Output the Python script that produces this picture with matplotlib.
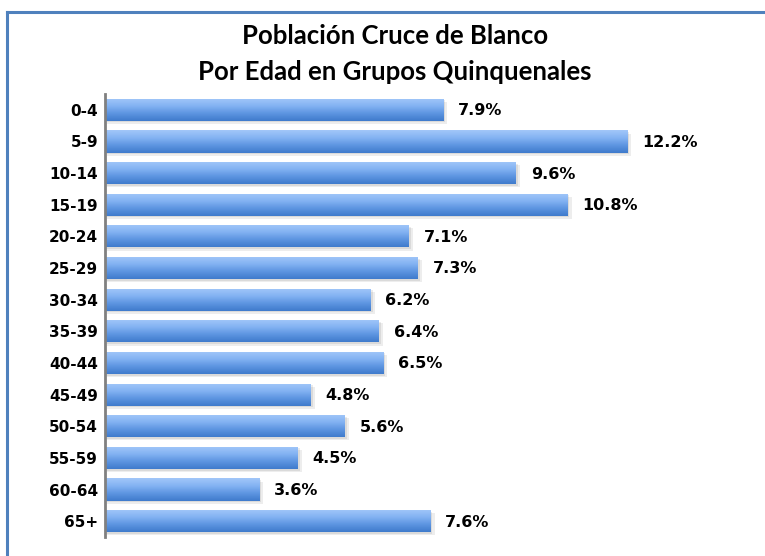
import matplotlib
matplotlib.use("Agg")
import matplotlib.pyplot as plt
import numpy as np
from matplotlib.patches import Rectangle
from matplotlib.colors import LinearSegmentedColormap

categories = ["0-4", "5-9", "10-14", "15-19", "20-24", "25-29", "30-34",
              "35-39", "40-44", "45-49", "50-54", "55-59", "60-64", "65+"]
values = [7.9, 12.2, 9.6, 10.8, 7.1, 7.3, 6.2, 6.4, 6.5, 4.8, 5.6, 4.5, 3.6, 7.6]
title = "Población Cruce de Blanco\nPor Edad en Grupos Quinquenales"

plt.rcParams['font.family'] = ['DejaVu Sans']

fig = plt.figure(figsize=(7.65, 5.56), dpi=100)
W, H = 765, 556

# figure border (top and left lines)
fig.add_artist(plt.Line2D([7 / W, 1], [1 - 12 / H, 1 - 12 / H], color="#4f81bd", lw=2.2,
                          transform=fig.transFigure))
fig.add_artist(plt.Line2D([7 / W, 7 / W], [0, 1 - 12 / H], color="#4f81bd", lw=2.2,
                          transform=fig.transFigure))

ax = fig.add_axes([105 / W, 1 - 537 / H, (750 - 105) / W, (537 - 94) / H])
n = len(categories)
ax.set_xlim(0, 645 / 42.8)
ax.set_ylim(n - 0.5, -0.5)

cmap = LinearSegmentedColormap.from_list("bar", ["#a2c7f9", "#84b3f3", "#5d95e1", "#3f7bcc"])
grad = np.linspace(0, 1, 64).reshape(-1, 1)
h = 0.7
for i, v in enumerate(values):
    # soft shadow
    ax.add_patch(Rectangle((0.05, i - h / 2 + 0.10), v + 0.05, h, facecolor="#000000",
                           alpha=0.07, edgecolor="none", zorder=1))
    ax.add_patch(Rectangle((0.02, i - h / 2 + 0.05), v + 0.03, h, facecolor="#000000",
                           alpha=0.08, edgecolor="none", zorder=1))
    rect = Rectangle((0, i - h / 2), v, h, facecolor="none", edgecolor="none", zorder=2)
    ax.add_patch(rect)
    im = ax.imshow(grad, extent=(0, v, i + h / 2, i - h / 2), aspect="auto", cmap=cmap,
                   zorder=2, interpolation="bicubic")
    im.set_clip_path(rect)
    ax.text(v + 0.35, i + 0.03, f"{v:.1f}%", va="center", ha="left", fontsize=11.5,
            fontweight="bold", color="black", zorder=3)

ax.set_yticks(range(n))
ax.set_yticklabels(categories, fontsize=11, fontweight="bold")
ax.tick_params(axis="y", length=0, pad=5)
ax.set_xticks([])
for s in ["top", "right", "bottom"]:
    ax.spines[s].set_visible(False)
ax.spines["left"].set_color("#808080")
ax.spines["left"].set_linewidth(2)

fig.text(395 / W, 1 - 54 / H, title, ha="center", va="center", fontsize=18.5,
         fontweight="bold", linespacing=1.6, family=["Lato", "DejaVu Sans"])

fig.savefig("out.png", dpi=100)
